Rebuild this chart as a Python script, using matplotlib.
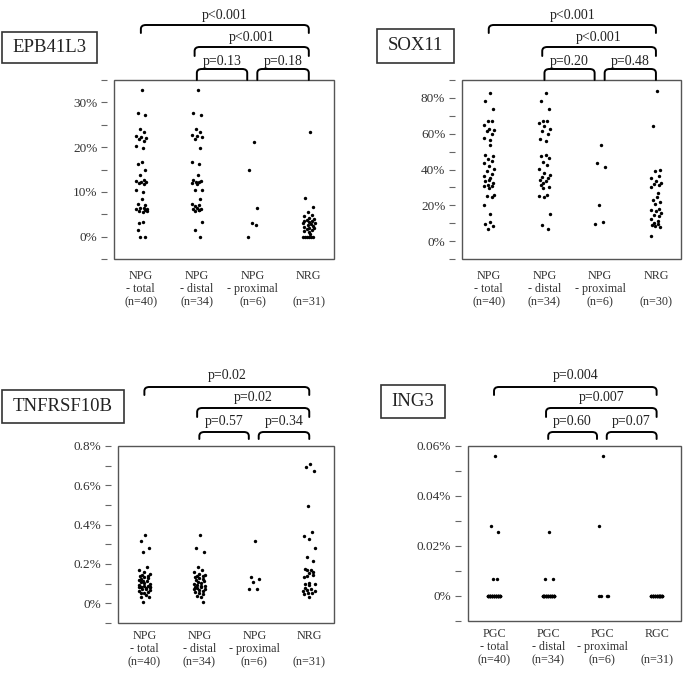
import matplotlib
matplotlib.use('Agg')
import matplotlib.pyplot as plt
from matplotlib.path import Path
from matplotlib.patches import PathPatch, Rectangle
from matplotlib.transforms import blended_transform_factory

plt.rcParams['font.family'] = ['Liberation Serif', 'DejaVu Serif']

# ---- data (expression, %) ----
epb_npg_total = [32.7, 27.7, 27.1, 24.0, 23.3, 22.5, 22.3, 22.0, 21.8, 21.3, 20.2, 19.8,
                 16.7, 16.3, 14.9, 13.7, 12.6, 12.4, 12.3, 12.1, 12.0, 11.8, 10.5, 10.0,
                 8.5, 7.3, 7.0, 6.4, 6.3, 6.2, 6.1, 6.0, 5.8, 5.7, 5.6, 3.3, 3.1, 1.5, 0.0, 0.0]
epb_npg_distal = [32.7, 27.7, 27.1, 24.0, 23.3, 22.6, 22.4, 22.2, 21.8, 19.9, 16.6, 16.3,
                  13.7, 12.6, 12.4, 12.3, 12.2, 11.9, 11.7, 10.5, 10.5, 8.5, 7.3, 7.0,
                  6.8, 6.4, 6.2, 6.1, 6.0, 5.9, 5.8, 3.3, 1.5, 0.0]
epb_npg_proximal = [21.1, 14.9, 6.4, 3.1, 2.7, 0.0]
epb_nrg = [23.4, 8.6, 6.6, 5.5, 4.8, 4.6, 4.2, 4.0, 3.8, 3.6, 3.5, 3.3, 3.1, 3.0, 2.8,
           2.6, 2.4, 2.2, 2.0, 1.9, 1.7, 1.5, 1.3, 1.1, 0.5, 0.0, 0.0, 0.0, 0.0, 0.0, 0.0]

sox_npg_total = [82.6, 78.3, 73.9, 67.2, 67.2, 65.0, 62.7, 62.0, 61.6, 59.8, 57.5, 56.4,
                 53.8, 48.3, 47.3, 46.0, 44.9, 43.6, 42.0, 40.5, 39.0, 37.5, 36.5, 35.3,
                 34.1, 33.4, 32.5, 31.5, 30.6, 30.6, 29.7, 25.6, 25.1, 24.6, 20.0, 15.2,
                 10.8, 9.3, 8.4, 6.5]
sox_npg_distal = [82.6, 78.3, 73.9, 67.2, 67.2, 66.0, 64.5, 62.5, 61.5, 59.8, 57.0, 56.0,
                  48.3, 47.3, 46.5, 44.3, 42.5, 40.5, 38.2, 37.1, 36.0, 35.3, 34.1, 33.5,
                  32.5, 31.2, 30.5, 29.7, 25.6, 25.1, 24.8, 15.2, 8.9, 6.5]
sox_npg_proximal = [53.8, 43.6, 41.6, 19.9, 10.8, 9.6]
sox_nrg = [84.1, 64.4, 39.9, 39.0, 36.2, 35.3, 33.4, 32.5, 32.0, 31.2, 30.5, 26.9, 24.5,
           23.2, 22.0, 20.8, 18.0, 17.6, 16.7, 15.5, 14.8, 13.9, 12.6, 11.0, 10.2, 9.3,
           9.0, 8.4, 8.0, 2.8]

tnf_npg_total = [0.345, 0.315, 0.28, 0.26, 0.184, 0.170, 0.160, 0.150, 0.146, 0.141,
                 0.138, 0.133, 0.128, 0.125, 0.120, 0.116, 0.112, 0.108, 0.102, 0.098,
                 0.095, 0.090, 0.088, 0.085, 0.082, 0.082, 0.082, 0.082, 0.078, 0.075,
                 0.072, 0.068, 0.065, 0.060, 0.055, 0.051, 0.044, 0.034, 0.031, 0.005]
tnf_npg_distal = [0.345, 0.28, 0.262, 0.184, 0.170, 0.160, 0.150, 0.146, 0.141, 0.138,
                  0.133, 0.128, 0.125, 0.120, 0.112, 0.108, 0.102, 0.098, 0.095, 0.090,
                  0.088, 0.082, 0.082, 0.078, 0.075, 0.072, 0.068, 0.065, 0.060, 0.051,
                  0.045, 0.039, 0.031, 0.005]
tnf_npg_proximal = [0.316, 0.136, 0.122, 0.107, 0.075, 0.075]
tnf_nrg = [0.711, 0.694, 0.672, 0.493, 0.362, 0.340, 0.329, 0.283, 0.238, 0.214, 0.176,
           0.170, 0.167, 0.160, 0.153, 0.145, 0.141, 0.133, 0.102, 0.100, 0.098, 0.095,
           0.079, 0.072, 0.068, 0.065, 0.061, 0.055, 0.051, 0.045, 0.031]

ing_pgc_total = [0.056, 0.028, 0.0255, 0.007, 0.007] + [0.0] * 35
ing_pgc_distal = [0.0255, 0.007, 0.007] + [0.0] * 31
ing_pgc_proximal = [0.056, 0.028, 0.0, 0.0, 0.0, 0.0]
ing_rgc = [0.0] * 31

npg_cats = ['NPG\n- total\n(n=40)', 'NPG\n- distal\n(n=34)', 'NPG\n- proximal\n(n=6)', 'NRG\n\n(n=31)']
npg_cats_sox = ['NPG\n- total\n(n=40)', 'NPG\n- distal\n(n=34)', 'NPG\n- proximal\n(n=6)', 'NRG\n\n(n=30)']
pgc_cats = ['PGC\n- total\n(n=40)', 'PGC\n- distal\n(n=34)', 'PGC\n- proximal\n(n=6)', 'RGC\n\n(n=31)']

epb_p = ['p<0.001', 'p<0.001', 'p=0.13', 'p=0.18']
sox_p = ['p<0.001', 'p<0.001', 'p=0.20', 'p=0.48']
tnf_p = ['p=0.02', 'p=0.02', 'p=0.57', 'p=0.34']
ing_p = ['p=0.004', 'p=0.007', 'p=0.60', 'p=0.07']

W, H = 685, 677
fig = plt.figure(figsize=(W / 100, H / 100), dpi=100)

panels = [
    dict(gene='EPB41L3', rect=(114, 80, 334, 259), gbox=(2, 32, 97, 63), row=0,
         groups=[epb_npg_total, epb_npg_distal, epb_npg_proximal, epb_nrg], cats=npg_cats,
         ylim=(-5, 35), major=[0, 10, 20, 30], labels=['0%', '10%', '20%', '30%'],
         minor=[-5, 5, 15, 25, 35], p=epb_p),
    dict(gene='SOX11', rect=(462, 80, 681, 259), gbox=(377, 29, 454, 63), row=0,
         groups=[sox_npg_total, sox_npg_distal, sox_npg_proximal, sox_nrg], cats=npg_cats_sox,
         ylim=(-10, 90), major=[0, 20, 40, 60, 80], labels=['0%', '20%', '40%', '60%', '80%'],
         minor=[-10, 10, 30, 50, 70, 90], p=sox_p),
    dict(gene='TNFRSF10B', rect=(118, 446, 334, 623), gbox=(2, 390, 124, 423), row=1,
         groups=[tnf_npg_total, tnf_npg_distal, tnf_npg_proximal, tnf_nrg], cats=npg_cats,
         ylim=(-0.1, 0.8), major=[0, 0.2, 0.4, 0.6, 0.8],
         labels=['0%', '0.2%', '0.4%', '0.6%', '0.8%'],
         minor=[-0.1, 0.1, 0.3, 0.5, 0.7], p=tnf_p),
    dict(gene='ING3', rect=(468, 446, 681, 621), gbox=(381, 385, 445, 418), row=1,
         groups=[ing_pgc_total, ing_pgc_distal, ing_pgc_proximal, ing_rgc], cats=pgc_cats,
         ylim=(-0.01, 0.06), major=[0, 0.02, 0.04, 0.06],
         labels=['0%', '0.02%', '0.04%', '0.06%'],
         minor=[-0.01, 0.01, 0.03, 0.05], p=ing_p),
]

# bracket levels in pixels above the box top: (line, ends, text)
levels = {0: [(55, 47, 65), (33, 24, 43), (11, 0, 19), (11, 0, 19)],
          1: [(59, 51, 71), (38, 29, 49), (14, 7, 25), (14, 7, 25)]}
spans = [(0, 3), (0.96, 3), (1.0, 1.9), (2.08, 3.0)]
cat_gap = {0: 11, 1: 7}
XLIM = (-0.48, 3.45)
offsets_try = [0, 0.035, -0.035, 0.07, -0.07, 0.105, -0.105]
# preferred first offset, cycled point by point (gives a jittered look)
first_pref = [0.02, -0.06, 0.08, -0.02, 0.05, -0.09, 0.0, 0.1, -0.04, 0.06, -0.08, 0.03]


def spread(vals, sx, sy):
    placed, offs = [], []
    for k, v in enumerate(vals):
        best = None
        for c in [first_pref[k % len(first_pref)]] + offsets_try:
            if all(((c - pc) * sx) ** 2 + ((v - pv) * sy) ** 2 >= 2.6 ** 2 for pc, pv in placed):
                best = c
                break
        if best is None:
            best = offsets_try[len(placed) % len(offsets_try)]
        placed.append((best, v))
        offs.append(best)
    return offs


for pnl in panels:
    l, t, r, b = pnl['rect']
    ax = fig.add_axes([l / W, 1 - b / H, (r - l) / W, (b - t) / H])
    ax_w, ax_h = r - l, b - t
    ax.set_xlim(XLIM)
    ax.set_ylim(pnl['ylim'])
    sx = ax_w / (XLIM[1] - XLIM[0])
    sy = ax_h / (pnl['ylim'][1] - pnl['ylim'][0])

    for i, vals in enumerate(pnl['groups']):
        offs = spread(vals, sx, sy)
        ax.scatter([i + o for o in offs], vals, s=6, c='black', linewidths=0, zorder=3)

    for s in ax.spines.values():
        s.set_visible(False)
    ax.spines['left'].set_position(('outward', 5))
    ax.add_patch(Rectangle((0, 0), 1, 1, transform=ax.transAxes, fill=False,
                           ec='#555555', lw=1.0, clip_on=False))
    ax.set_xticks([])
    ax.set_yticks(pnl['major'])
    ax.set_yticklabels(pnl['labels'])
    ax.set_yticks(pnl['minor'], minor=True)
    ax.tick_params(axis='y', which='both', length=4, width=0.8, color='#666666',
                   pad=3, labelsize=9.5, labelcolor='#333333')

    trans = blended_transform_factory(ax.transData, ax.transAxes)
    for i, lab in enumerate(pnl['cats']):
        ax.text(i, -cat_gap[pnl['row']] / ax_h, lab, transform=trans, ha='center', va='top',
                fontsize=8.7, color='#333333', linespacing=1.1)

    # significance brackets
    rx, ry = 0.09, 4 / ax_h
    for (x1, x2), (ly, ey, ty), ptxt in zip(spans, levels[pnl['row']], pnl['p']):
        yl = 1 + ly / ax_h
        ye = 1 + ey / ax_h
        verts = [(x1, ye), (x1, yl - ry), (x1, yl), (x1 + rx, yl), (x2 - rx, yl),
                 (x2, yl), (x2, yl - ry), (x2, ye)]
        codes = [Path.MOVETO, Path.LINETO, Path.CURVE3, Path.CURVE3, Path.LINETO,
                 Path.CURVE3, Path.CURVE3, Path.LINETO]
        ax.add_patch(PathPatch(Path(verts, codes), transform=trans, fill=False,
                               lw=1.4, ec='black', clip_on=False, capstyle='round'))
        ax.text((x1 + x2) / 2, 1 + ty / ax_h, ptxt, transform=trans, ha='center',
                va='center', fontsize=10, color='#222222')

    # gene name box
    gl, gt, gr, gb = pnl['gbox']
    fig.patches.append(Rectangle((gl / W, 1 - gb / H), (gr - gl) / W, (gb - gt) / H,
                                 transform=fig.transFigure, fill=False, ec='#333333',
                                 lw=1.2))
    fig.text((gl + gr) / 2 / W, 1 - (gt + gb) / 2 / H, pnl['gene'], ha='center',
             va='center', fontsize=13.5, color='#222222')

fig.savefig('out.png', dpi=100)
